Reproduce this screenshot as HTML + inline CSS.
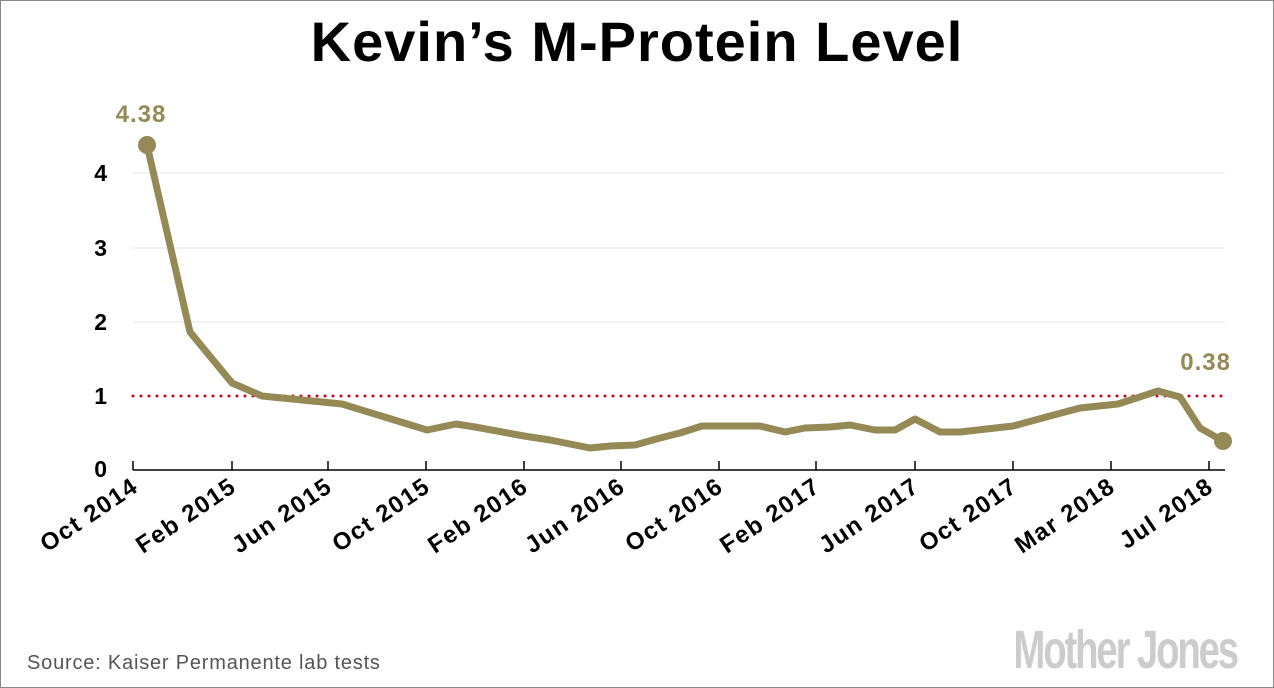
<!DOCTYPE html>
<html><head><style>
html,body{margin:0;padding:0;background:#fff}
svg{display:block}
text{font-family:"Liberation Sans",sans-serif}
</style></head><body>
<svg width="1274" height="688" viewBox="0 0 1274 688">
<rect x="0.5" y="0.5" width="1273" height="687" fill="#fff" stroke="#888"/>
<text x="637" y="61" text-anchor="middle" font-size="56" font-weight="bold" fill="#000" letter-spacing="1">Kevin’s M-Protein Level</text>
<g stroke="#e6e6e6" stroke-width="1">
<line x1="133" y1="173" x2="1225" y2="173"/>
<line x1="133" y1="248" x2="1225" y2="248"/>
<line x1="133" y1="322" x2="1225" y2="322"/>
</g>
<g font-size="23" font-weight="bold" fill="#000" text-anchor="end">
<text x="107" y="181">4</text><text x="107" y="256">3</text><text x="107" y="330">2</text><text x="107" y="404">1</text><text x="107" y="477">0</text>
</g>
<line x1="133" y1="396" x2="1225" y2="396" stroke="#d0021b" stroke-width="3" stroke-dasharray="0 8" stroke-linecap="round"/>
<line x1="133" y1="470" x2="1225" y2="470" stroke="#000" stroke-width="1.5"/>
<g stroke="#000" stroke-width="1.5">
<line x1="133" y1="461" x2="133" y2="470"/><line x1="232" y1="461" x2="232" y2="470"/><line x1="328" y1="461" x2="328" y2="470"/><line x1="426" y1="461" x2="426" y2="470"/><line x1="524" y1="461" x2="524" y2="470"/><line x1="621" y1="461" x2="621" y2="470"/><line x1="719" y1="461" x2="719" y2="470"/><line x1="816" y1="461" x2="816" y2="470"/><line x1="915" y1="461" x2="915" y2="470"/><line x1="1013" y1="461" x2="1013" y2="470"/><line x1="1111" y1="461" x2="1111" y2="470"/><line x1="1209" y1="461" x2="1209" y2="470"/>
</g>
<g font-size="24" font-weight="bold" fill="#000" text-anchor="end" letter-spacing="1.5">
<text transform="translate(140,490) rotate(-34)">Oct 2014</text>
<text transform="translate(238,490) rotate(-34)">Feb 2015</text>
<text transform="translate(334,490) rotate(-34)">Jun 2015</text>
<text transform="translate(432,490) rotate(-34)">Oct 2015</text>
<text transform="translate(530,490) rotate(-34)">Feb 2016</text>
<text transform="translate(627,490) rotate(-34)">Jun 2016</text>
<text transform="translate(725,490) rotate(-34)">Oct 2016</text>
<text transform="translate(822,490) rotate(-34)">Feb 2017</text>
<text transform="translate(921,490) rotate(-34)">Jun 2017</text>
<text transform="translate(1019,490) rotate(-34)">Oct 2017</text>
<text transform="translate(1117,490) rotate(-34)">Mar 2018</text>
<text transform="translate(1215,490) rotate(-34)">Jul 2018</text>
</g>
<polyline fill="none" stroke="#958a55" stroke-width="7" stroke-linejoin="round" stroke-linecap="round" points="147,145 190,332 232,383 262,396 342,404 427,430 456,424 475,427 524,436 550,440 570,444 590,448 610,446 635,445 660,438 680,433 702,426 760,426 785,432 805,428 830,427 850,425 875,430 895,430 915,419 940,432 960,432 1013,426 1050,416 1080,408 1118,404 1158,391 1180,397 1200,428 1223,441"/>
<circle cx="147" cy="145" r="9" fill="#958a55"/>
<circle cx="1223" cy="441" r="9" fill="#958a55"/>
<text x="141" y="122" text-anchor="middle" font-size="24" font-weight="bold" fill="#958a55" letter-spacing="1">4.38</text>
<text x="1231" y="370" text-anchor="end" font-size="24" font-weight="bold" fill="#958a55" letter-spacing="1">0.38</text>
<text x="27" y="669" font-size="20" fill="#555" letter-spacing="0.8">Source: Kaiser Permanente lab tests</text>
<text x="1237" y="668" text-anchor="end" font-size="54" font-weight="bold" fill="#ccc" letter-spacing="-3" transform="translate(1237,668) scale(0.71,1) translate(-1237,-668)">Mother Jones</text>
</svg>
</body></html>
